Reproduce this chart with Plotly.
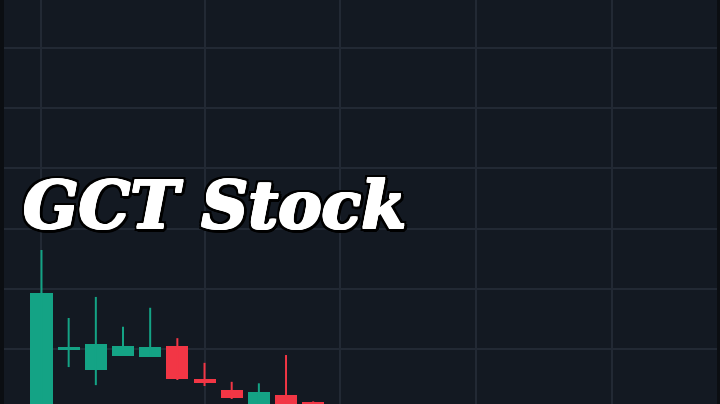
import plotly.graph_objects as go

# ---- data ----
bars = list(range(11))
opens  = [6.64, 9.98, 9.30, 9.77, 9.74, 10.11, 9.01, 8.64, 7.64, 8.46, 8.24]
highs  = [13.29, 11.03, 11.73, 10.74, 11.37, 10.36, 9.54, 8.91, 8.86, 9.80, 8.26]
lows   = [6.48, 9.40, 8.80, 9.77, 9.74, 8.97, 8.77, 8.34, 7.50, 7.50, 7.50]
closes = [11.86, 10.08, 10.17, 10.11, 10.08, 8.99, 8.86, 8.36, 8.58, 7.64, 7.60]
grid_bars = [0, 6, 11, 16, 21]
title_text = "GCT Stock"

UP = "#14a385"
DOWN = "#f23645"
BG = "#131922"
GRID = "#222934"

fig = go.Figure()

for is_up, col in ((True, UP), (False, DOWN)):
    idx = [i for i in bars if (closes[i] >= opens[i]) == is_up]
    wx, wy = [], []
    for i in idx:
        wx += [bars[i], bars[i], None]
        wy += [lows[i], highs[i], None]
    fig.add_trace(go.Scatter(x=wx, y=wy, mode="lines",
                             line=dict(color=col, width=2),
                             hoverinfo="skip", showlegend=False))
    fig.add_trace(go.Bar(x=[bars[i] for i in idx],
                         y=[abs(closes[i] - opens[i]) for i in idx],
                         base=[min(opens[i], closes[i]) for i in idx],
                         width=0.81,
                         marker=dict(color=col, line=dict(width=0)),
                         showlegend=False))

white = ", ".join(f"{dx}px {dy}px 0 #fff" for dx, dy in
                  [(1, 0), (-1, 0), (0, 1), (0, -1), (1, 1), (-1, -1), (1, -1), (-1, 1)])
black = ", ".join(f"{dx}px {dy}px 0 #000" for dx, dy in
                  [(4, 0), (-3, 0), (0, 4), (0, -3), (3, 3), (-3, -3), (3, -3), (-3, 3),
                   (2, 4), (4, 2), (-2, 3), (3, -2)])

fig.add_annotation(
    text=title_text, xref="paper", yref="paper",
    x=0.024, y=0.493, xanchor="left", yanchor="middle", showarrow=False,
    font=dict(family="DejaVu Serif", size=65, color="#ffffff",
              weight="bold", style="italic",
              shadow=white + ", " + black),
)

fig.update_layout(
    width=720, height=404,
    margin=dict(l=4, r=3, t=0, b=0),
    paper_bgcolor="#0b0e12", plot_bgcolor=BG,
    bargap=0, showlegend=False,
    xaxis=dict(range=[-1.380, 24.862], tickvals=grid_bars, showticklabels=False,
               showgrid=True, gridcolor=GRID, gridwidth=2, zeroline=False,
               showline=False, fixedrange=True),
    yaxis=dict(range=[8.173, 21.595], dtick=2, tick0=0, showticklabels=False,
               showgrid=True, gridcolor=GRID, gridwidth=2, zeroline=False,
               showline=False, fixedrange=True),
)

fig.write_html("out.html", config={"displayModeBar": False},
               post_script="document.body.style.margin='0';"
                           "document.body.style.background='#0b0e12';")
